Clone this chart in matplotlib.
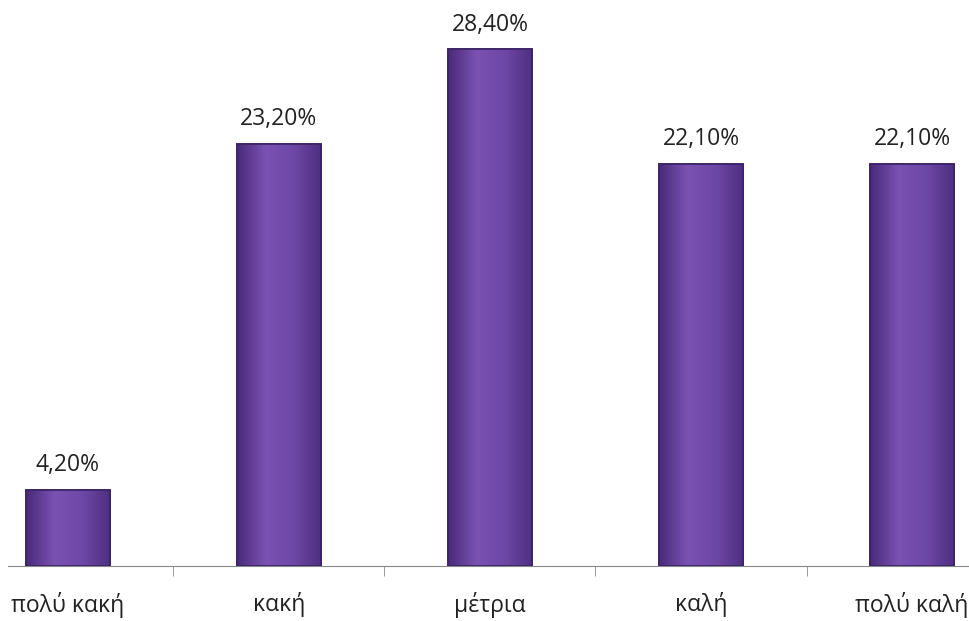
import matplotlib
matplotlib.use('Agg')
import matplotlib.pyplot as plt
import numpy as np
from matplotlib.colors import LinearSegmentedColormap

plt.rcParams['font.family'] = ['Open Sans', 'DejaVu Sans']

categories = ['πολύ κακή', 'κακή', 'μέτρια', 'καλή', 'πολύ καλή']
values = [4.2, 23.2, 28.4, 22.1, 22.1]
value_labels = ['4,20%', '23,20%', '28,40%', '22,10%', '22,10%']

fig = plt.figure(figsize=(9.69, 6.21), dpi=100)
fig.patch.set_facecolor('white')
ax = fig.add_axes([8 / 969, 55 / 621, 961 / 969, 566 / 621])

x = np.arange(len(categories))
bars = ax.bar(x, values, width=0.4, color='#6b45a0', edgecolor='#3b2266', linewidth=1.2, zorder=2)

# horizontal shading across each bar: darker edges, lighter middle
shade = LinearSegmentedColormap.from_list('shade', ['#4a2b7a', '#7a52b2', '#6e48a6', '#4e2f80'])
grad = np.linspace(0, 1, 64).reshape(1, -1)
for b in bars:
    x0, w, h = b.get_x(), b.get_width(), b.get_height()
    im = ax.imshow(grad, cmap=shade, aspect='auto', extent=[x0, x0 + w, 0, h], zorder=2.5)
    im.set_clip_path(b)
    ax.add_patch(plt.Rectangle((x0, 0), w, h, fill=False, edgecolor='#3b2266', linewidth=1.2, zorder=3))

for xi, v, lbl in zip(x, values, value_labels):
    ax.annotate(lbl, (xi, v), xytext=(0, 9), textcoords='offset points',
                ha='center', va='bottom', fontsize=16.5, color='#222222')

ax.set_xlim(-0.284, 4.27)
ax.set_ylim(0, 31.1)
ax.set_xticks(x)
ax.set_xticklabels(categories, fontsize=16.5, color='#222222')
ax.tick_params(axis='x', which='major', length=0, pad=19)
ax.set_xticks(x[:-1] + 0.5, minor=True)
ax.tick_params(axis='x', which='minor', length=7, color='#888888', direction='out')
ax.set_yticks([])
for s in ['top', 'right', 'left']:
    ax.spines[s].set_visible(False)
ax.spines['bottom'].set_color('#888888')
ax.set_facecolor('white')

fig.savefig('out.png', dpi=100)
